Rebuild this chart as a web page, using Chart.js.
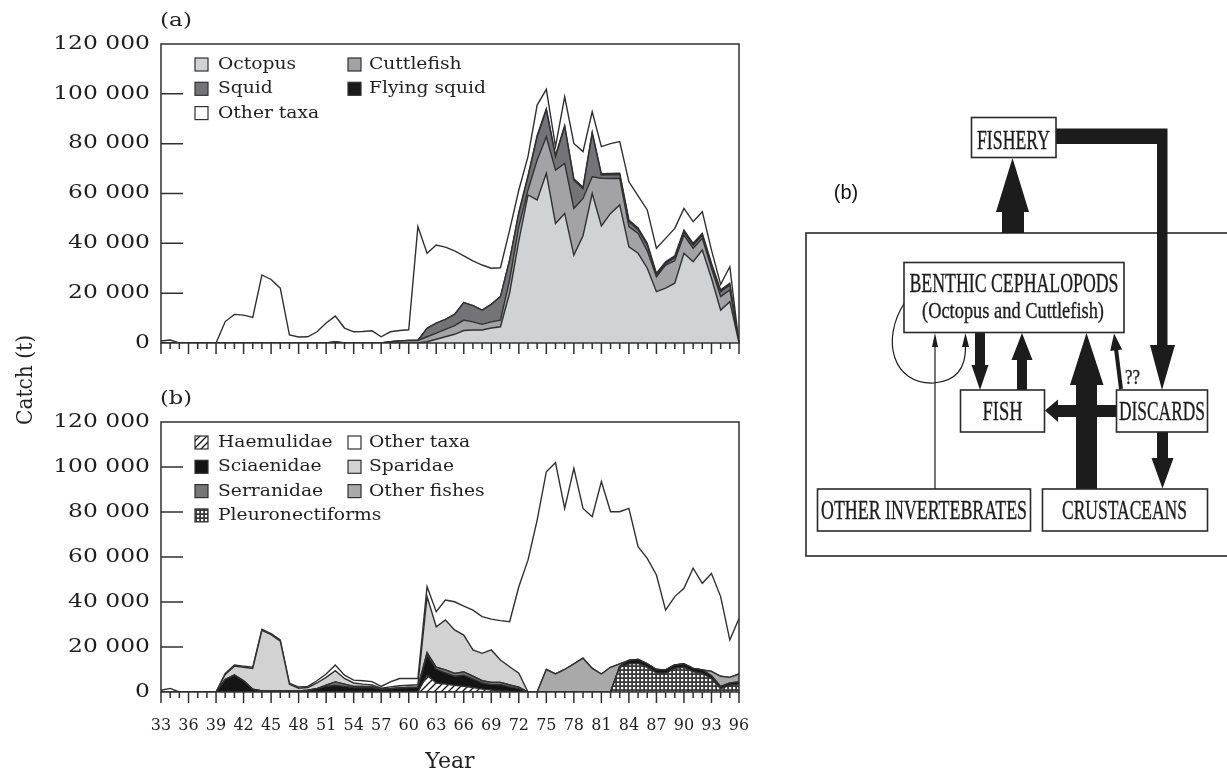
<!DOCTYPE html>
<html>
<head>
<meta charset="utf-8">
<script src="https://cdn.jsdelivr.net/npm/chart.js@4.4.1/dist/chart.umd.min.js"></script>
<style>
  body { margin: 0; background: #fff; }
  #page { position: relative; width: 1227px; height: 773px; overflow: hidden; background: #fff; }
  canvas { position: absolute; left: 0; }
  #catchA { top: 0; }
  #catchB { top: 370px; }
  svg { position: absolute; left: 0; top: 0; }
</style>
</head>
<body>
<div id="page">
  <canvas id="catchA" width="760" height="370"></canvas>
  <canvas id="catchB" width="760" height="403"></canvas>
  <svg width="1227" height="773" viewBox="0 0 1227 773">
    <!-- panel letters and shared y title -->
    <g font-family="'DejaVu Serif', serif" fill="#222" text-anchor="middle">
      <text x="176" y="26" font-size="18" textLength="32" lengthAdjust="spacingAndGlyphs">(a)</text>
      <text x="176" y="404" font-size="18" textLength="32" lengthAdjust="spacingAndGlyphs">(b)</text>
      <text transform="translate(32,380) rotate(-90)" font-size="22" textLength="90" lengthAdjust="spacingAndGlyphs">Catch (t)</text>
    </g>

    <!-- flow diagram -->
    <text x="846" y="199" font-family="'Liberation Sans', Arial, sans-serif" font-size="20" text-anchor="middle" fill="#111">(b)</text>
    <rect x="806" y="233" width="440" height="323" fill="none" stroke="#2a2a2a" stroke-width="1.6"/>

    <g fill="#1c1c1c" stroke="none">
      <!-- cephalopods to fishery -->
      <polygon points="1002,233 1002,212 996,212 1012.5,158 1029,212 1024,212 1024,233"/>
      <!-- fishery to discards -->
      <polygon points="1056,128.5 1167.5,128.5 1167.5,345 1175,345 1162,390 1150,345 1157,345 1157,144 1056,144"/>
      <!-- cephalopods to fish -->
      <polygon points="975,332.5 985,332.5 985,365 988.5,365 980,390 971.5,365 975,365"/>
      <!-- fish to cephalopods -->
      <polygon points="1017,390 1017,360 1011.5,360 1022,333 1032.5,360 1027,360 1027,390"/>
      <!-- discards to fish -->
      <polygon points="1116.5,405 1058,405 1058,399.5 1045,410.5 1058,422 1058,417 1116.5,417"/>
      <!-- crustaceans to cephalopods -->
      <polygon points="1076,489 1076,385 1070,385 1086.5,333 1103.5,385 1097,385 1097,489"/>
      <!-- discards to crustaceans -->
      <polygon points="1157,432 1168,432 1168,458 1173.5,458 1162.5,488.5 1151.5,458 1157,458"/>
      <!-- discards to cephalopods (uncertain) -->
      <g transform="rotate(-7.1,1121,389)">
        <polygon points="1119,389 1119,350 1115,350 1121,333 1127,350 1123,350 1123,389"/>
      </g>
      <!-- small heads for the thin links -->
      <polygon points="935,333 932,347 938,347"/>
      <polygon points="965.5,333 962,347 969,347"/>
    </g>
    <g fill="none" stroke="#1c1c1c" stroke-width="1.2">
      <line x1="935" y1="489" x2="935" y2="346"/>
      <path d="M905,302 C880,340 893,385 934,383 C958,381 966,366 965.5,346"/>
    </g>

    <g fill="#fff" stroke="#2a2a2a" stroke-width="1.6">
      <rect x="971.5" y="117.5" width="84.5" height="40"/>
      <rect x="904" y="262.5" width="220" height="70"/>
      <rect x="960.5" y="390" width="84" height="42"/>
      <rect x="1116.5" y="390" width="91" height="42"/>
      <rect x="817.5" y="489" width="213" height="42"/>
      <rect x="1042.5" y="489" width="165" height="42"/>
    </g>

    <g font-family="'Liberation Serif', 'DejaVu Serif', serif" fill="#1c1c1c" stroke="#1c1c1c" stroke-width="0.35" text-anchor="middle">
      <text x="1013.5" y="149" font-size="27" textLength="73" lengthAdjust="spacingAndGlyphs">FISHERY</text>
      <text x="1014" y="292" font-size="27" textLength="209" lengthAdjust="spacingAndGlyphs">BENTHIC CEPHALOPODS</text>
      <text x="1013" y="318" font-size="24" textLength="182" lengthAdjust="spacingAndGlyphs">(Octopus and Cuttlefish)</text>
      <text x="1002.5" y="420" font-size="27" textLength="40" lengthAdjust="spacingAndGlyphs">FISH</text>
      <text x="1162" y="420" font-size="27" textLength="86" lengthAdjust="spacingAndGlyphs">DISCARDS</text>
      <text x="924" y="519" font-size="27" textLength="206" lengthAdjust="spacingAndGlyphs">OTHER INVERTEBRATES</text>
      <text x="1124.5" y="519" font-size="27" textLength="125" lengthAdjust="spacingAndGlyphs">CRUSTACEANS</text>
      <text x="1132.5" y="384" font-size="22" textLength="15" lengthAdjust="spacingAndGlyphs">??</text>
    </g>
  </svg>
</div>
<script>
const yearLabels = [
    '33','34','35','36','37','38','39','40','41','42',
    '43','44','45','46','47','48','49','50','51','52',
    '53','54','55','56','57','58','59','60','61','62',
    '63','64','65','66','67','68','69','70','71','72',
    '73','74','75','76','77','78','79','80','81','82',
    '83','84','85','86','87','88','89','90','91','92',
    '93','94','95','96'
];

// (a) cephalopods, tonnes per year
const octopusCatch = [
    0,0,0,0,0,0,0,0,0,0,
    0,0,0,0,0,0,0,0,0,0,
    0,0,0,0,0,0,0,0,0,
    500,1500,2500,3500,5000,5200,5200,6000,6500,20000,
    41000,59400,57400,68100,48000,52000,35300,43000,60000,47000,
    52000,55400,38600,36000,30000,20600,22000,24000,36000,32600,
    37300,26000,13200,16600,0
];
const cuttlefishCatch = [
    0,0,0,0,0,0,0,0,0,0,
    0,0,0,0,0,0,0,0,0,0,
    0,0,0,0,0,500,800,1000,1000,
    2000,2500,3000,3500,4200,3300,2300,2500,2700,5300,
    5700,2000,16000,14700,21400,20100,18700,15000,6700,19100,
    14000,10700,8100,8000,7000,6000,9300,9000,7300,5400,
    4700,4000,5400,4700,0
];
const squidCatch = [
    0,0,0,0,0,0,0,0,0,0,
    0,0,0,0,0,0,0,0,0,500,
    0,0,0,0,0,0,0,0,0,
    3400,4000,4000,4500,7000,6500,5700,7000,9400,8000,
    5300,5300,9400,10700,5400,14700,11400,4000,17400,1300,
    1500,1500,2000,1500,2300,700,600,1300,1300,1300,
    1300,1300,2000,2000,0
];
const flyingSquidCatch = [
    0,0,0,0,0,0,0,0,0,0,
    0,0,0,0,0,0,0,0,0,0,
    0,0,0,0,0,0,0,0,0,
    0,0,0,0,0,0,0,0,0,0,
    500,500,500,500,500,500,500,500,500,500,
    500,500,700,700,700,700,700,700,700,700,
    700,700,700,700,0
];
const otherTaxaA = [
    800,1200,0,0,0,0,0,8600,11500,11200,
    10300,27300,25500,22000,3200,2400,2500,4500,8000,10300,
    6000,4500,4600,4900,2500,4000,4200,4300,45700,
    30100,31300,29000,25500,18800,18000,18100,14500,11600,12000,
    8900,7600,12200,7800,3500,11500,14200,14300,8200,10900,
    12000,12700,15300,12800,13400,10000,9400,11000,8700,8700,
    8700,5300,2200,6600,0
];

// (b) fishes, tonnes per year
const pleuronectiformsCatch = [
    0,0,0,0,0,0,0,0,0,0,
    0,0,0,0,0,0,0,0,0,0,
    0,0,0,0,0,0,0,0,0,0,
    0,0,0,0,0,0,0,0,0,0,
    0,0,0,0,0,0,0,0,0,0,
    11000,12500,12700,11000,8500,8300,10500,11000,9000,8300,
    6000,1500,3000,3500
];
const haemulidaeCatch = [
    0,0,0,0,0,0,0,0,0,0,
    0,0,0,0,0,0,0,0,0,0,
    0,0,0,0,0,0,0,0,0,7500,
    4000,3500,3000,2500,2000,1300,900,500,300,0,
    0,0,0,0,0,0,0,0,0,0,
    0,0,0,0,0,0,0,0,0,0,
    0,0,0,0
];
const sciaenidaeCatch = [
    0,0,0,0,0,0,0,5500,7500,5000,
    1200,500,500,500,500,500,800,1500,2500,3000,
    2500,2000,2000,2000,1200,1500,1800,2000,2000,9000,
    6000,5000,4000,5000,3800,2700,2400,2800,2000,1500,
    0,0,0,0,0,0,0,0,0,0,
    500,1500,1800,1500,1500,1500,1500,1500,1500,1500,
    1200,1000,1000,1000
];
const serranidaeCatch = [
    0,0,0,0,0,0,0,0,0,0,
    0,0,0,0,0,0,0,0,500,1500,
    1000,500,500,300,0,0,0,0,0,1000,
    1000,1300,1300,1400,1200,1000,1000,1000,800,700,
    0,0,0,0,0,0,0,0,0,0,
    0,0,0,0,0,0,0,0,0,0,
    0,0,0,0
];
const otherFishesCatch = [
    0,0,0,0,0,0,0,0,0,0,
    0,0,0,0,0,0,0,0,0,0,
    0,0,0,0,0,0,0,0,0,0,
    0,0,0,0,0,0,0,0,0,0,
    0,0,10000,8000,10000,12500,15000,10500,8000,11000,
    1000,0,0,0,0,0,0,0,0,0,
    2000,4500,2500,3500
];
const sparidaeCatch = [
    0,0,0,0,0,0,0,2300,4000,6000,
    9300,26900,25000,22100,2900,1200,1200,2500,3500,5000,
    2500,1500,1000,800,500,800,1000,1000,1200,24900,
    18000,22200,19300,16400,11700,12200,14400,9900,8100,6200,
    0,0,0,0,0,0,0,0,0,0,
    0,0,0,0,0,0,0,0,0,0,
    0,0,0,0
];
const otherTaxaB = [
    800,1600,0,0,0,0,0,500,500,500,
    500,500,500,500,500,500,500,1000,1500,2500,
    1500,1300,1500,1500,800,2200,3200,3000,2800,4400,
    6700,8900,12500,12900,17700,16300,13700,17500,20000,38400,
    58600,76400,87900,93900,71600,86900,66600,67400,85500,69100,
    67600,67600,50100,46900,42000,26600,30400,33600,44500,38500,
    43500,35400,16600,24700
];

const TEXT = '#1f1f1f';
const LINE = '#303030';
const SERIF = '"DejaVu Serif", serif';

function tile(size, paint) {
    const c = document.createElement('canvas');
    c.width = size;
    c.height = size;
    const g = c.getContext('2d');
    paint(g, size);
    return g.createPattern(c, 'repeat');
}

const hatch = tile(7, function (g, s) {
    g.fillStyle = '#fff';
    g.fillRect(0, 0, s, s);
    g.strokeStyle = '#111';
    g.lineWidth = 1.3;
    g.beginPath();
    g.moveTo(-1, s + 1); g.lineTo(s + 1, -1);
    g.moveTo(-1, 1); g.lineTo(1, -1);
    g.moveTo(s - 1, s + 1); g.lineTo(s + 1, s - 1);
    g.stroke();
});

const checker = tile(4, function (g, s) {
    g.fillStyle = '#3a3a3a';
    g.fillRect(0, 0, s, s);
    g.fillStyle = '#fff';
    g.fillRect(1, 1, 2.2, 2.2);
});

function groupThousands(v) {
    return String(v).replace(/\B(?=(\d{3})+(?!\d))/g, ' ');
}

// box, inward y ticks, year ticks and stretched y labels
const frame = {
    id: 'frame',
    afterDraw(chart) {
        const ctx = chart.ctx;
        const a = chart.chartArea;
        const x = chart.scales.x;
        const y = chart.scales.y;
        ctx.save();
        ctx.strokeStyle = LINE;
        ctx.lineWidth = 1.5;
        ctx.strokeRect(a.left, a.top, a.right - a.left, a.bottom - a.top);
        ctx.beginPath();
        y.ticks.forEach(function (t) {
            if (t.value > 0 && t.value < y.max) {
                const py = y.getPixelForValue(t.value);
                ctx.moveTo(a.left, py);
                ctx.lineTo(a.left + 22, py);
            }
        });
        for (let i = 0; i < yearLabels.length; i++) {
            const px = x.getPixelForValue(i);
            ctx.moveTo(px, a.bottom);
            ctx.lineTo(px, a.bottom + (i % 3 === 0 ? 11 : 6));
        }
        ctx.stroke();

        ctx.fillStyle = TEXT;
        ctx.font = '18px ' + SERIF;
        ctx.textAlign = 'right';
        ctx.textBaseline = 'middle';
        y.ticks.forEach(function (t) {
            ctx.save();
            ctx.translate(a.left - 11, y.getPixelForValue(t.value));
            ctx.scale(1.3, 1);
            ctx.fillText(groupThousands(t.value), 0, 0);
            ctx.restore();
        });
        ctx.restore();
    }
};

// two-column legend inside the plot
const boxLegend = {
    id: 'boxLegend',
    afterDraw(chart, args, opts) {
        const ctx = chart.ctx;
        const a = chart.chartArea;
        ctx.save();
        ctx.font = '17px ' + SERIF;
        ctx.textBaseline = 'middle';
        opts.rows.forEach(function (row, r) {
            row.forEach(function (label, c) {
                const ds = chart.data.datasets.find(function (d) { return d.label === label; });
                const bx = a.left + (c ? 187 : 34);
                const by = a.top + 20.5 + r * 24.3;
                ctx.fillStyle = ds.backgroundColor;
                ctx.fillRect(bx, by - 6.5, 13, 13);
                ctx.strokeStyle = LINE;
                ctx.lineWidth = 1.2;
                ctx.strokeRect(bx, by - 6.5, 13, 13);
                ctx.fillStyle = TEXT;
                ctx.save();
                ctx.translate(bx + (c ? 21 : 23), by);
                ctx.scale(1.1, 1);
                ctx.fillText(label, 0, 0);
                ctx.restore();
            });
        });
        ctx.restore();
    }
};

function layer(label, data, fill, first) {
    return {
        label: label,
        data: data,
        backgroundColor: fill,
        borderColor: LINE,
        borderWidth: 1.4,
        pointRadius: 0,
        tension: 0,
        fill: first ? 'origin' : '-1'
    };
}

function stackedArea(id, datasets, rows, padTop, withYears) {
    return new Chart(document.getElementById(id), {
        type: 'line',
        data: { labels: yearLabels, datasets: datasets },
        options: {
            responsive: false,
            animation: false,
            events: [],
            layout: { padding: { left: 161, right: 21, top: padTop, bottom: withYears ? 0 : 27 } },
            plugins: {
                legend: { display: false },
                tooltip: { enabled: false },
                boxLegend: { rows: rows }
            },
            scales: {
                x: {
                    grid: { display: false, drawTicks: false },
                    border: { display: false },
                    ticks: {
                        display: withYears,
                        autoSkip: false,
                        maxRotation: 0,
                        minRotation: 0,
                        padding: 24,
                        color: TEXT,
                        font: { family: SERIF, size: 16 },
                        callback: function (v, i) { return i % 3 === 0 ? yearLabels[i] : ''; }
                    },
                    title: {
                        display: withYears,
                        text: 'Year',
                        color: TEXT,
                        padding: { top: 0, bottom: -2 },
                        font: { family: SERIF, size: 22 }
                    },
                    afterFit: function (s) {
                        s.height = withYears ? 81 : 0;
                        s.paddingLeft = 0;
                        s.paddingRight = 0;
                    }
                },
                y: {
                    stacked: true,
                    min: 0,
                    max: 120000,
                    grid: { display: false, drawTicks: false },
                    border: { display: false },
                    ticks: { display: false, stepSize: 20000 },
                    afterFit: function (s) { s.width = 0; }
                }
            }
        },
        plugins: [frame, boxLegend]
    });
}

stackedArea('catchA', [
    layer('Octopus', octopusCatch, '#d0d2d5', true),
    layer('Cuttlefish', cuttlefishCatch, '#a3a3a7'),
    layer('Squid', squidCatch, '#747478'),
    layer('Flying squid', flyingSquidCatch, '#1a1a1a'),
    layer('Other taxa', otherTaxaA, '#ffffff')
], [['Octopus', 'Cuttlefish'], ['Squid', 'Flying squid'], ['Other taxa']], 44, false);

stackedArea('catchB', [
    layer('Pleuronectiforms', pleuronectiformsCatch, checker, true),
    layer('Haemulidae', haemulidaeCatch, hatch),
    layer('Sciaenidae', sciaenidaeCatch, '#141414'),
    layer('Serranidae', serranidaeCatch, '#767676'),
    layer('Other fishes', otherFishesCatch, '#a9a9a9'),
    layer('Sparidae', sparidaeCatch, '#d2d2d2'),
    layer('Other taxa', otherTaxaB, '#ffffff')
], [['Haemulidae', 'Other taxa'], ['Sciaenidae', 'Sparidae'], ['Serranidae', 'Other fishes'], ['Pleuronectiforms']], 52, true);
</script>
</body>
</html>
